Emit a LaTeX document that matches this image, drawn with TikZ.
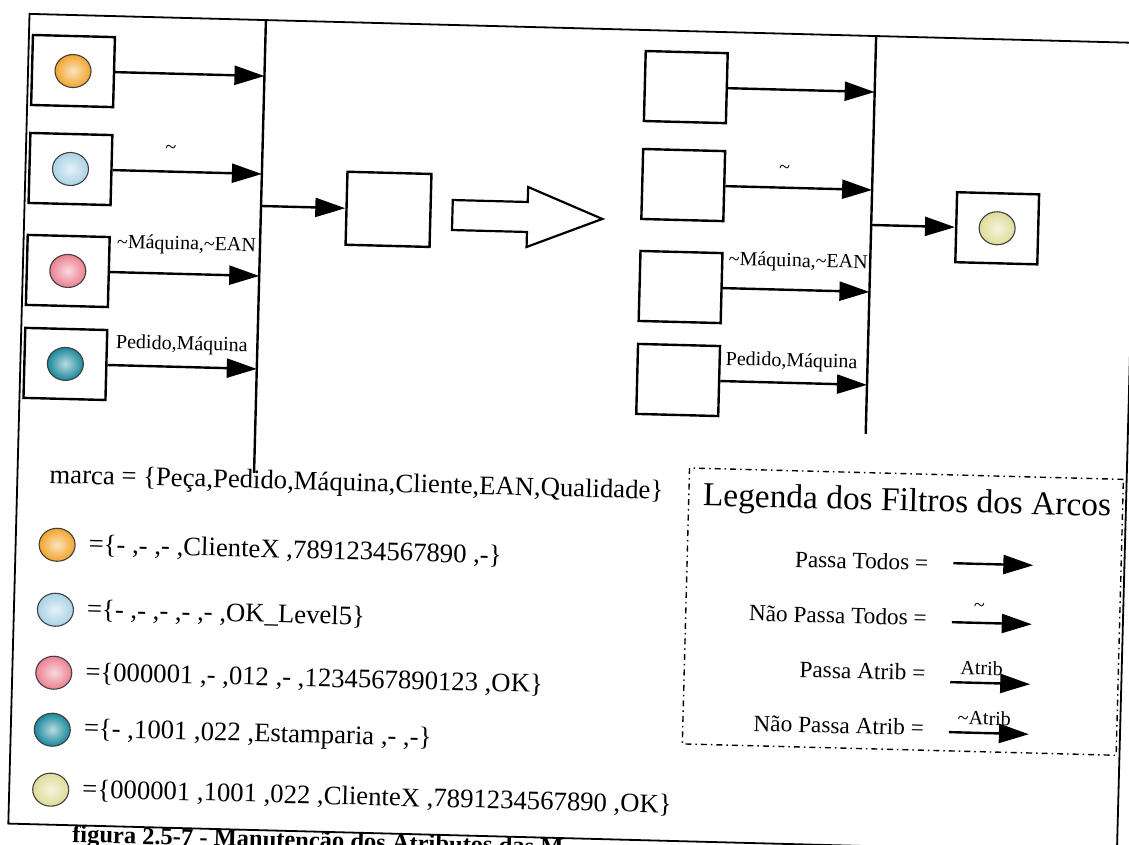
\documentclass[tikz,border=0pt]{standalone}
\usepackage{fontspec}
\setmainfont{Liberation Serif}
\usetikzlibrary{arrows.meta,shapes.geometric}
\definecolor{cOrange}{HTML}{F2A32A}
\definecolor{cBlue}{HTML}{A9D2E6}
\definecolor{cPink}{HTML}{EB7F90}
\definecolor{cTeal}{HTML}{17879A}
\definecolor{cYellow}{HTML}{DEDB96}
\begin{document}
\begin{tikzpicture}[x=1pt,y=-1pt,
  stepbox/.style={draw, line width=2.4pt, minimum width=82pt, minimum height=70pt, inner sep=0pt},
  token/.style={ellipse, draw=black!75, line width=1.1pt, minimum width=36pt, minimum height=33pt, inner sep=0pt, inner color=#1!30!white, outer color=#1},
  flowarrow/.style={line width=2.4pt, -{Triangle[length=30pt,width=19pt]}},
  busline/.style={line width=2.4pt},
  legbox/.style={draw, line width=1.4pt, dash pattern=on 6pt off 4pt on 1.5pt off 4pt, inner sep=0pt},
  labfont/.style={font=\fontsize{20}{24}\selectfont, inner sep=0pt},
  listfont/.style={font=\fontsize{26.7}{32}\selectfont, inner sep=0pt, anchor=west},
  titlefont/.style={font=\fontsize{33.4}{40}\selectfont, inner sep=0pt},
  legfont/.style={font=\fontsize{23.3}{28}\selectfont, inner sep=0pt, anchor=east},
  capfont/.style={font=\bfseries\fontsize{24.5}{29}\selectfont, inner sep=0pt, anchor=west}
]
\useasboundingbox (0,0) rectangle (1129,844);
\clip (0,0) rectangle (1129,844);
\fill[white] (0,0) rectangle (1129,844);
\begin{scope}[rotate around={-1.5:(564,422)}, transform shape]
% frame
\draw[line width=1.8pt] (19,28) rectangle (1128,838);
% bars
\coordinate (bLt) at (255.5,28); \coordinate (bLb) at (255.5,481);
\coordinate (bRt) at (866,28);   \coordinate (bRb) at (866,426);
\draw[busline] (bLt) -- (bLb);
\draw[busline] (bRt) -- (bRb);
% left boxes
\foreach \i/\y/\c in {1/84/cOrange,2/182/cBlue,3/284/cPink,4/377/cTeal} {
  \node[stepbox] (L\i) at (64,\y) {};
  \node[token=\c] (Lb\i) at (L\i) {};
  \coordinate (tL\i) at (255.5,\y);
  \draw[flowarrow] (L\i) -- (tL\i);
}
% middle box
\node[stepbox, minimum width=84pt, minimum height=73pt] (M) at (383,214) {};
\coordinate (tM) at (255.5,214);
\draw[flowarrow] (tM) -- (M);
% hollow arrow
\draw[line width=2.2pt, fill=white, line join=miter] (447,203) -- (522,203) -- (522,188) -- (597,218) -- (522,248) -- (522,233) -- (447,233) -- cycle;
% right boxes
\foreach \i/\y in {1/84,2/182,3/284,4/377} {
  \node[stepbox] (R\i) at (677,\y) {};
  \coordinate (tR\i) at (866,\y);
  \draw[flowarrow] (R\i) -- (tR\i);
}
% output box
\node[stepbox] (O) at (992,217) {};
\node[token=cYellow] (Ob) at (O) {};
\coordinate (tO) at (866,217);
\draw[flowarrow] (tO) -- (O);
% arc labels
\node[labfont] (t2L) at (164,160) {\textasciitilde};
\node[labfont] (t3L) at (182,255) {\textasciitilde Máquina,\textasciitilde EAN};
\node[labfont] (t4L) at (180,355) {Pedido,Máquina};
\node[labfont] (t2R) at (778,164) {\textasciitilde};
\node[labfont] (t3R) at (794,256) {\textasciitilde Máquina,\textasciitilde EAN};
\node[labfont] (t4R) at (790,356) {Pedido,Máquina};
% list
\node[listfont] (marca) at (51,490) {marca = \{Peça,Pedido,Máquina,Cliente,EAN,Qualidade\}};
\node[token=cOrange] (k1) at (60.5,558) {};
\node[listfont] (v1) at (92,558) {=\{- ,- ,- ,ClienteX ,7891234567890 ,-\}};
\node[token=cBlue] (k2) at (60.5,623) {};
\node[listfont] (v2) at (92,623) {=\{- ,- ,- ,- ,- ,OK\_Level5\}};
\node[token=cPink] (k3) at (60.5,686) {};
\node[listfont] (v3) at (92,686) {=\{000001 ,- ,012 ,- ,1234567890123 ,OK\}};
\node[token=cTeal] (k4) at (60.5,743) {};
\node[listfont] (v4) at (92,743) {=\{- ,1001 ,022 ,Estamparia ,- ,-\}};
\node[token=cYellow] (k5) at (60.5,803) {};
\node[listfont] (v5) at (92,803) {=\{000001 ,1001 ,022 ,ClienteX ,7891234567890 ,OK\}};
% legend
\node[legbox, anchor=north west, minimum width=434pt, minimum height=276pt] (leg) at (690,464) {};
\node[titlefont] (legt) at (909,494) {Legenda dos Filtros dos Arcos};
\node[legfont] (p1) at (932,553) {Passa Todos =};
\node[legfont] (p2) at (932,608) {Não Passa Todos =};
\node[legfont] (p3) at (932,663) {Passa Atrib =};
\node[legfont] (p4) at (932,718) {Não Passa Atrib =};
\coordinate (a1s) at (957,553); \coordinate (a1e) at (1037,553);
\coordinate (a2s) at (957,612); \coordinate (a2e) at (1037,612);
\coordinate (a3s) at (957,672); \coordinate (a3e) at (1037,672);
\coordinate (a4s) at (957,722); \coordinate (a4e) at (1037,722);
\draw[flowarrow] (a1s) -- (a1e);
\draw[flowarrow] (a2s) -- (a2e);
\draw[flowarrow] (a3s) -- (a3e);
\draw[flowarrow] (a4s) -- (a4e);
\node[labfont] (a2l) at (984,597) {\textasciitilde};
\node[labfont] (a3l) at (988,657) {Atrib};
\node[labfont] (a4l) at (992,707) {\textasciitilde Atrib};
% caption
\node[capfont] (cap) at (83,849) {figura 2.5-7 - Manutenção dos Atributos das M};
\end{scope}
\end{tikzpicture}
\end{document}
